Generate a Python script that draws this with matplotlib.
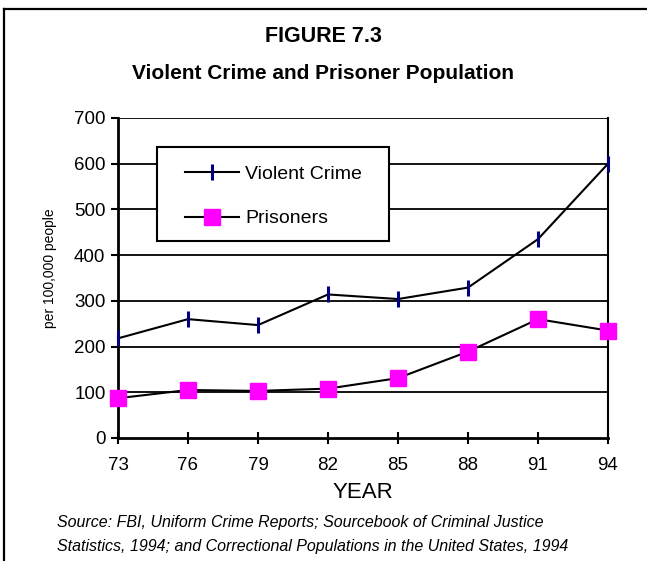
import matplotlib
matplotlib.use("Agg")
import matplotlib.pyplot as plt
from matplotlib.lines import Line2D
from matplotlib.patches import Rectangle

plt.rcParams["font.family"] = ["Liberation Sans", "DejaVu Sans"]

years = [73, 76, 79, 82, 85, 88, 91, 94]
violent_crime = [218, 260, 247, 314, 304, 329, 435, 600]
prisoners = [87, 105, 103, 108, 131, 189, 260, 235]
y_ticks = [0, 100, 200, 300, 400, 500, 600, 700]

W, H = 647, 561
fig = plt.figure(figsize=(W / 100, H / 100), dpi=100)
fig.patch.set_facecolor("white")

# outer frame (left and top edges only visible)
fig.add_artist(Line2D([4 / W, 4 / W], [0, 1 - 9 / H], color="black", lw=1.6))
fig.add_artist(Line2D([4 / W, 1], [1 - 9 / H, 1 - 9 / H], color="black", lw=1.6))

left, right, top, bottom = 118, 608, 118, 438
ax = fig.add_axes([left / W, 1 - bottom / H, (right - left) / W, (bottom - top) / H])

for y in y_ticks[1:]:
    ax.axhline(y, color="black", lw=1.3, zorder=1)

ax.plot(years, violent_crime, color="black", lw=1.5, marker="|", markersize=11,
        markeredgewidth=2.2, markeredgecolor="#000080", label="Violent Crime",
        clip_on=False, zorder=3)
ax.plot(years, prisoners, color="black", lw=1.5, marker="s", markersize=11,
        markerfacecolor="#FF00FF", markeredgecolor="#FF00FF", label="Prisoners",
        clip_on=False, zorder=3)

ax.set_xlim(73, 94)
ax.set_ylim(0, 700)
ax.set_xticks(years)
ax.set_yticks(y_ticks)
ax.tick_params(axis="x", direction="inout", length=9, width=1.5, labelsize=13.5, pad=9)
ax.tick_params(axis="y", direction="out", length=5, width=1.5, labelsize=13.5, pad=4)
for side in ["left", "bottom"]:
    ax.spines[side].set_linewidth(2)
ax.spines["right"].set_linewidth(1.5)
ax.spines["top"].set_visible(False)

fig.text(363 / W, 1 - 493 / H, "YEAR", fontsize=16, ha="center", va="center")
fig.text(50 / W, 1 - 268 / H, "per 100,000 people", rotation=90, fontsize=10,
         ha="center", va="center")

# legend frame drawn separately so the entries can sit with wider side padding
ax.add_patch(Rectangle((39 / 490, 197 / 320), 232 / 490, 94 / 320, transform=ax.transAxes,
                       facecolor="white", edgecolor="black", lw=1.5, zorder=4,
                       clip_on=False))
leg = ax.legend(loc="upper left", bbox_to_anchor=(67 / 490, 273 / 320), frameon=False,
                fontsize=14, borderpad=0, labelspacing=1.4, handlelength=2.8,
                handletextpad=0.3, borderaxespad=0)
leg.set_zorder(5)

fig.text(0.5, 1 - 37 / H, "FIGURE 7.3", fontsize=15.5, fontweight="bold",
         ha="center", va="center")
fig.text(0.5, 1 - 74 / H, "Violent Crime and Prisoner Population", fontsize=15,
         fontweight="bold", ha="center", va="center")
fig.text(57 / W, 1 - 522 / H,
         "Source: FBI, Uniform Crime Reports; Sourcebook of Criminal Justice",
         fontsize=11.5, style="italic", ha="left", va="center")
fig.text(57 / W, 1 - 546 / H,
         "Statistics, 1994; and Correctional Populations in the United States, 1994",
         fontsize=11.5, style="italic", ha="left", va="center")

fig.savefig("out.png", dpi=100)
